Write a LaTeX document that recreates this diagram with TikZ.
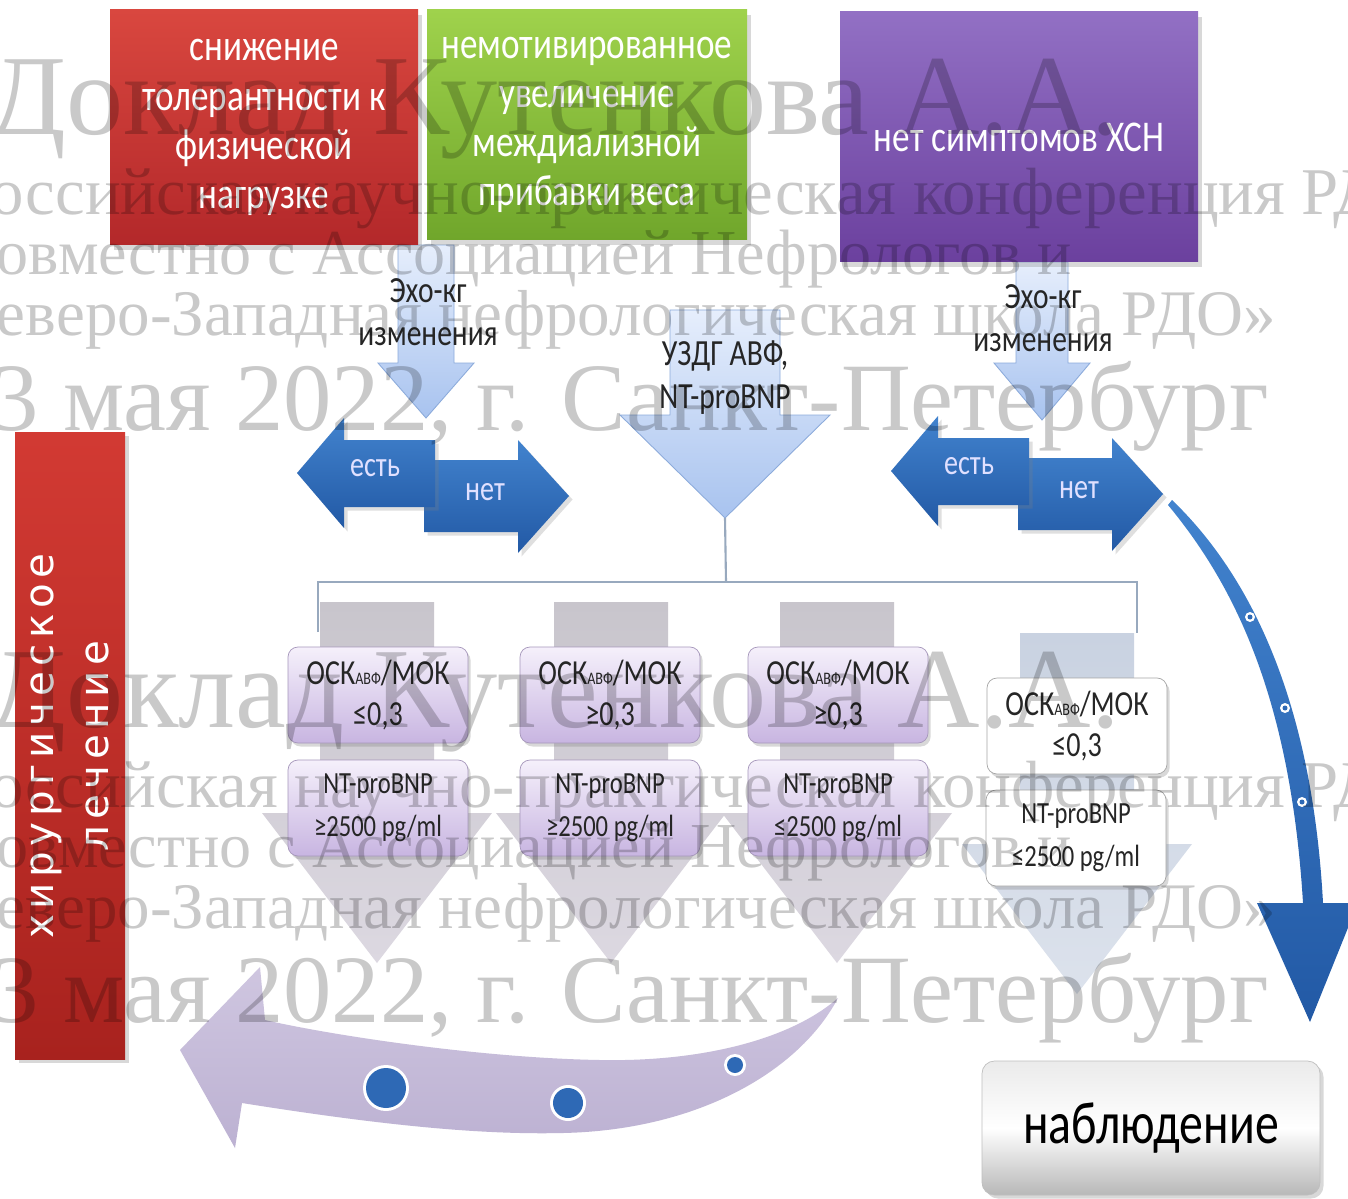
\documentclass[tikz,border=0pt]{standalone}
\usepackage{fontspec}
\setmainfont{Carlito}
\newfontfamily\narrowfont[FakeStretch=0.8]{Carlito}
\newfontfamily\barfont[LetterSpace=14]{DejaVu Sans}
\newfontfamily\markfont{Liberation Serif}
\usetikzlibrary{shadows}

\definecolor{redA}{HTML}{D9473F}
\definecolor{redB}{HTML}{B3282A}
\definecolor{greenA}{HTML}{9FD24C}
\definecolor{greenB}{HTML}{70A62B}
\definecolor{purpA}{HTML}{9270C4}
\definecolor{purpB}{HTML}{6B409E}
\definecolor{paleA}{HTML}{E6EEFC}
\definecolor{paleB}{HTML}{A8C3EF}
\definecolor{paleEdge}{HTML}{8CABDB}
\definecolor{navyA}{HTML}{4283CE}
\definecolor{navyB}{HTML}{2259A5}
\definecolor{greyColA}{HTML}{C8C5CC}
\definecolor{greyColB}{HTML}{DCD8E1}
\definecolor{blueColA}{HTML}{C9D2E1}
\definecolor{blueColB}{HTML}{DCE2EC}
\definecolor{lilacA}{HTML}{F5F0FB}
\definecolor{lilacB}{HTML}{C8B5E1}
\definecolor{lilacEdge}{HTML}{A697BB}
\definecolor{bracketC}{HTML}{98A9BE}
\definecolor{lavA}{HTML}{CFC6E0}
\definecolor{lavB}{HTML}{BCB1D2}
\definecolor{dotC}{HTML}{2E69B5}
\definecolor{barA}{HTML}{D23A33}
\definecolor{barB}{HTML}{A8221E}

\newcommand{\px}{0.02cm}
\newcommand{\fs}[2]{\fontsize{#1}{#2}\selectfont}
\newcommand{\avf}{{\fs{10}{10}АВФ}}

\tikzset{
  topbox/.style={text=white, align=center, font=\narrowfont\fs{25}{28},
    drop shadow={opacity=0.3, shadow xshift=2pt, shadow yshift=-3pt}},
  paleArrow/.style={top color=paleA, bottom color=paleB, draw=paleEdge, line width=0.5pt},
  navyArrow/.style={top color=navyA, bottom color=navyB,
    drop shadow={opacity=0.25, shadow xshift=2pt, shadow yshift=-2pt}},
  lbl/.style={font=\narrowfont\fs{21}{24.5}, text=black!85, align=center},
  yesnotext/.style={font=\narrowfont\fs{20}{22}, text=white!88!blue},
  colbox/.style={rounded corners=0.2cm, minimum width=180*\px, minimum height=96*\px,
    align=center, text=black!85,
    drop shadow={opacity=0.3, shadow xshift=1.5pt, shadow yshift=-2pt}},
  lilacbox/.style={colbox, top color=lilacA, bottom color=lilacB, draw=lilacEdge},
  whitebox/.style={colbox, fill=white, draw=black!35},
  oskfont/.style={font=\narrowfont\fs{20}{23}},
  bnpfont/.style={font=\narrowfont\fs{17.5}{24.5}},
  bracket/.style={draw=bracketC, line width=1.2pt},
  wmark/.style={text=black, text opacity=0.21, anchor=base west, inner sep=0pt},
  yesnopair/.pic={
    \path[navyArrow] (127,-13) -- (221,-13) -- (221,-33) -- (272,23) -- (221,80)
      -- (221,59) -- (127,59) -- cycle;
    \path[navyArrow] (138,-33) -- (47,-33) -- (47,-55) -- (0,0) -- (47,55)
      -- (47,34) -- (138,34) -- cycle;
    \node[yesnotext] (-yes) at (78,-5) {есть};
    \node[yesnotext] (-no) at (188,19) {нет};
  }
}

\begin{document}
\begin{tikzpicture}[x=\px, y=-\px]
  \useasboundingbox (0,0) rectangle (1348,1199);
  \clip (0,0) rectangle (1348,1199);
  \fill[white] (0,0) rectangle (1348,1199);

  % down arrows under the symptom boxes
  \foreach \cx/\ytop/\hw/\yh/\hh/\ytip in {426/245/28/363/48/418, 1042/262/26/363/48/420, 725/310/55/415/105/518}
    \path[paleArrow] (\cx-\hw,\ytop) -- (\cx+\hw,\ytop) -- (\cx+\hw,\yh) -- (\cx+\hh,\yh)
      -- (\cx,\ytip) -- (\cx-\hh,\yh) -- (\cx-\hw,\yh) -- cycle;

  % symptom boxes
  \node[topbox, top color=redA, bottom color=redB, minimum width=308*\px, minimum height=235*\px]
    (load) at (264,127.5) {снижение\\толерантности к\\физической\\нагрузке};
  \node[topbox, top color=greenA, bottom color=greenB, minimum width=320*\px, minimum height=230*\px]
    (weight) at (587,125) {немотивированное\\увеличение\\междиализной\\прибавки веса};
  \node[topbox, top color=purpA, bottom color=purpB, minimum width=358*\px, minimum height=250*\px]
    (nosympt) at (1019,137) {нет симптомов ХСН};

  \node[lbl] (echoL) at (428,312) {Эхо-кг\\изменения};
  \node[lbl] (echoR) at (1043,318) {Эхо-кг\\изменения};
  \node[lbl] (uzdg) at (725,378) {УЗДГ АВФ,\\NT-proBNP};
  \coordinate (uzdgTip) at (725,518);

  \pic (pairL) at (297,473) {yesnopair};
  \pic (pairR) at (891,471) {yesnopair};

  % bracket to the four groups
  \coordinate (brM) at (726,582);
  \coordinate (brL) at (318,632);
  \coordinate (brR) at (1137,633);
  \draw[bracket] (uzdgTip) -- (brM);
  \draw[bracket] (brL) |- (brM) -| (brR);

  \foreach \cx/\dy/\ca/\cb in {377/0/greyColA/greyColB, 611/0/greyColA/greyColB, 837/0/greyColA/greyColB, 1077/31/blueColA/blueColB}
    \path[top color=\ca, bottom color=\cb] (\cx-57,602+\dy) -- (\cx+57,602+\dy) -- (\cx+57,813+\dy)
      -- (\cx+115,813+\dy) -- (\cx,963+\dy) -- (\cx-115,813+\dy) -- (\cx-57,813+\dy) -- cycle;

  \node[lilacbox, oskfont] (osk1) at (378,695) {ОСК\avf/МОК\\≤0,3};
  \node[lilacbox, bnpfont] (bnp1) at (378,808) {NT-proBNP\\≥2500 pg/ml};
  \node[lilacbox, oskfont] (osk2) at (610,695) {ОСК\avf/МОК\\≥0,3};
  \node[lilacbox, bnpfont] (bnp2) at (610,808) {NT-proBNP\\≥2500 pg/ml};
  \node[lilacbox, oskfont] (osk3) at (838,695) {ОСК\avf/МОК\\≥0,3};
  \node[lilacbox, bnpfont] (bnp3) at (838,808) {NT-proBNP\\≤2500 pg/ml};
  \node[whitebox, oskfont] (osk4) at (1077,726) {ОСК\avf/МОК\\≤0,3};
  \node[whitebox, bnpfont] (bnp4) at (1076,838) {NT-proBNP\\≤2500 pg/ml};

  % surgery bar
  \node[rotate=90, minimum width=627*\px, minimum height=110*\px, top color=barA, bottom color=barB,
    text=white, align=center, font=\barfont\fs{23}{31},
    drop shadow={opacity=0.3, shadow xshift=2pt, shadow yshift=-2pt}]
    (surgery) at (70,746) {хирургическое\\лечение};

  % curved arrows
  \path[top color=navyA, bottom color=navyB] (1168,505) .. controls (1230,580) and (1290,690) .. (1303,903)
    -- (1257,903) -- (1310,1022) -- (1358,903) -- (1323,903)
    .. controls (1312,700) and (1250,575) .. (1172,500) -- cycle;
  \foreach \p in {(1250,617),(1285,708),(1302,802)} {
    \fill[white] \p circle (0.1cm);
    \fill[dotC] \p circle (0.05cm);
  }
  \path[top color=lavA, bottom color=lavB] (838,998) .. controls (790,1040) and (700,1062) .. (600,1060)
    .. controls (480,1058) and (330,1035) .. (265,1020) -- (260,967) -- (180,1050) -- (235,1148)
    -- (242,1103) .. controls (380,1125) and (480,1135) .. (563,1133)
    .. controls (700,1130) and (800,1070) .. (838,998) -- cycle;
  \foreach \p/\r in {(386,1088)/0.4, (568,1103)/0.3, (735,1065)/0.16} {
    \fill[white] \p circle (\r cm+0.06cm);
    \fill[dotC] \p circle (\r cm);
  }

  \node[draw=black!25, rounded corners=0.25cm, top color=black!8, bottom color=black!28, middle color=white,
    minimum width=338*\px, minimum height=134*\px, font=\narrowfont\fs{34}{40},
    drop shadow={opacity=0.3, shadow xshift=2pt, shadow yshift=-2pt}]
    (watch) at (1151,1128) {наблюдение};

  % watermark
  \foreach \dy in {0,592} {
    \node[wmark, font=\markfont\fs{65}{65}] (wmA\dy) at (-12,135+\dy) {Доклад Кутенкова А.А.};
    \node[wmark, font=\markfont\fs{38}{38}] (wmB\dy) at (-45,215+\dy) {Российская научно-практическая конференция РДО};
    \node[wmark, font=\markfont\fs{36.5}{36}] (wmC\dy) at (-32,275+\dy) {совместно с Ассоциацией Нефрологов и};
    \node[wmark, font=\markfont\fs{37}{37}] (wmD\dy) at (-80,336+\dy) {«Северо-Западная нефрологическая школа РДО»};
    \node[wmark, font=\markfont\fs{55}{55}] (wmE\dy) at (-58,430+\dy) {13 мая 2022, г. Санкт-Петербург};
  }
\end{tikzpicture}
\end{document}
